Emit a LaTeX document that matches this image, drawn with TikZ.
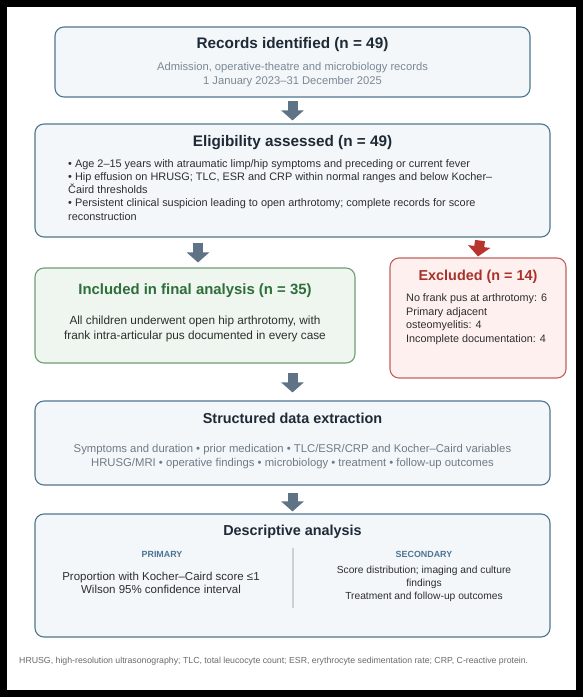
\documentclass[tikz,border=0pt]{standalone}
\usepackage{fontspec}
\setmainfont{Liberation Sans}
\usetikzlibrary{arrows.meta,positioning}
\definecolor{boxfill}{HTML}{F3F7FA}
\definecolor{boxline}{HTML}{4F7690}
\definecolor{titlec}{HTML}{1E2A36}
\definecolor{subc}{HTML}{7C8894}
\definecolor{bodyc}{HTML}{2E2E2E}
\definecolor{greyc}{HTML}{6F7B87}
\definecolor{arrowc}{HTML}{5E7385}
\definecolor{incfill}{HTML}{EEF6EF}
\definecolor{incline}{HTML}{6E9E76}
\definecolor{inctitle}{HTML}{2F6E3A}
\definecolor{excfill}{HTML}{FDF0EF}
\definecolor{excline}{HTML}{C0625D}
\definecolor{exctitle}{HTML}{A8322B}
\definecolor{redarrow}{HTML}{B8352C}
\definecolor{labelc}{HTML}{4D7494}
\definecolor{divc}{HTML}{C7D2DB}
\definecolor{footc}{HTML}{6A6A6A}
\tikzset{
  flowbox/.style={draw=boxline, fill=boxfill, line width=1.1pt, rounded corners=9pt, inner sep=0pt},
  incbox/.style={draw=incline, fill=incfill, line width=1.1pt, rounded corners=9pt, inner sep=0pt},
  excbox/.style={draw=excline, fill=excfill, line width=1.1pt, rounded corners=9pt, inner sep=0pt},
  txt/.style={inner sep=0pt, anchor=center},
  bigtitle/.style={txt, text=titlec, font=\fontsize{15.3}{18}\selectfont\bfseries},
  midtitle/.style={txt, text=titlec, font=\fontsize{14.4}{17}\selectfont\bfseries},
  blockarrow/.style={draw=arrowc, line width=10pt, -{Triangle[width=22pt,length=10pt]}},
  redblock/.style={draw=redarrow, line width=10pt, -{Triangle[width=22pt,length=10pt]}},
  lbl/.style={txt, text=labelc, font=\fontsize{8.9}{10}\selectfont\bfseries},
}
\begin{document}
\begin{tikzpicture}[x=1pt,y=-1pt]
\fill[black] (0,0) rectangle (583,697);
\fill[white] (6.5,7) rectangle (576,689.5);
\useasboundingbox (0,0) rectangle (583,697);

% boxes
\node[flowbox, minimum width=475pt, minimum height=70pt] (b1) at (292.5,62) {};
\node[flowbox, minimum width=515pt, minimum height=113pt] (b2) at (292.5,180.5) {};
\node[incbox, minimum width=320pt, minimum height=95pt] (inc) at (195,315.5) {};
\node[excbox, minimum width=176pt, minimum height=120pt] (exc) at (478,318) {};
\node[flowbox, minimum width=515pt, minimum height=84pt] (st) at (292.5,443) {};
\node[flowbox, minimum width=515pt, minimum height=123pt] (da) at (292.5,575.5) {};

% box 1
\node[bigtitle] (t1) at (292.5,45) {Records identified (n = 49)};
\node[txt, text=subc, font=\fontsize{11.2}{14}\selectfont, align=center] (s1) at (292.5,75)
  {Admission, operative-theatre and microbiology records\\1 January 2023–31 December 2025};

% box 2
\node[bigtitle] (t2) at (292.5,143) {Eligibility assessed (n = 49)};
\node[inner sep=0pt, anchor=north west, text=bodyc, font=\fontsize{10.9}{13.1}\selectfont, align=left] (s2) at (68,159.5)
  {• Age 2–15 years with atraumatic limp/hip symptoms and preceding or current fever\\
   • Hip effusion on HRUSG; TLC, ESR and CRP within normal ranges and below Kocher–\\
   Čaird thresholds\\
   • Persistent clinical suspicion leading to open arthrotomy; complete records for score\\
   reconstruction};

% included
\node[txt, text=inctitle, font=\fontsize{14.9}{17}\selectfont\bfseries] (t3) at (195,291) {Included in final analysis (n = 35)};
\node[txt, text=bodyc, font=\fontsize{11.8}{15}\selectfont, align=center] (s3) at (195,329)
  {All children underwent open hip arthrotomy, with\\frank intra-articular pus documented in every case};

% excluded
\node[txt, text=exctitle, font=\fontsize{14.4}{17}\selectfont\bfseries] (t4) at (478,277) {Excluded (n = 14)};
\node[inner sep=0pt, anchor=north west, text=bodyc, font=\fontsize{10.8}{13.7}\selectfont, align=left] (s4) at (406,293.5)
  {No frank pus at arthrotomy: 6\\Primary adjacent\\osteomyelitis: 4\\Incomplete documentation: 4};

% structured
\node[midtitle] (t5) at (292.5,418) {Structured data extraction};
\node[txt, text=greyc, font=\fontsize{11.3}{14}\selectfont, align=center] (s5) at (292.5,456.5)
  {Symptoms and duration • prior medication • TLC/ESR/CRP and Kocher–Caird variables\\
   HRUSG/MRI • operative findings • microbiology • treatment • follow-up outcomes};

% descriptive
\node[midtitle] (t6) at (292.5,532) {Descriptive analysis};
\node[lbl] (p1) at (162,554) {PRIMARY};
\node[lbl] (p2) at (424,554) {SECONDARY};
\node[txt, text=bodyc, font=\fontsize{11.5}{13.5}\selectfont, align=center] (pt) at (161,583)
  {Proportion with Kocher–Caird score ≤1\\Wilson 95\% confidence interval};
\node[txt, text=bodyc, font=\fontsize{10.25}{13}\selectfont, align=center] (st2) at (424,584)
  {Score distribution; imaging and culture\\findings\\Treatment and follow-up outcomes};
\coordinate (dv1) at (293,548);
\coordinate (dv2) at (293,608);
\draw[divc, line width=1.5pt] (dv1) -- (dv2);

% footnote
\node[inner sep=0pt, anchor=west, text=footc, font=\fontsize{8.75}{10}\selectfont] (fn) at (19,661)
  {HRUSG, high-resolution ultrasonography; TLC, total leucocyte count; ESR, erythrocyte sedimentation rate; CRP, C-reactive protein.};

% arrows
\draw[blockarrow] ([yshift=-3pt]b1.south) -- ([yshift=3pt]b2.north);
\draw[blockarrow] ([xshift=-94.5pt,yshift=-5pt]b2.south) -- ([xshift=3pt,yshift=5pt]inc.north);
\draw[redblock] ([xshift=187.5pt,yshift=-3pt]b2.south) -- ([yshift=1pt]exc.north);
\draw[blockarrow] ([xshift=97.5pt,yshift=-9pt]inc.south) -- ([yshift=8pt]st.north);
\draw[blockarrow] ([yshift=-7pt]st.south) -- ([yshift=2pt]da.north);
\end{tikzpicture}
\end{document}
